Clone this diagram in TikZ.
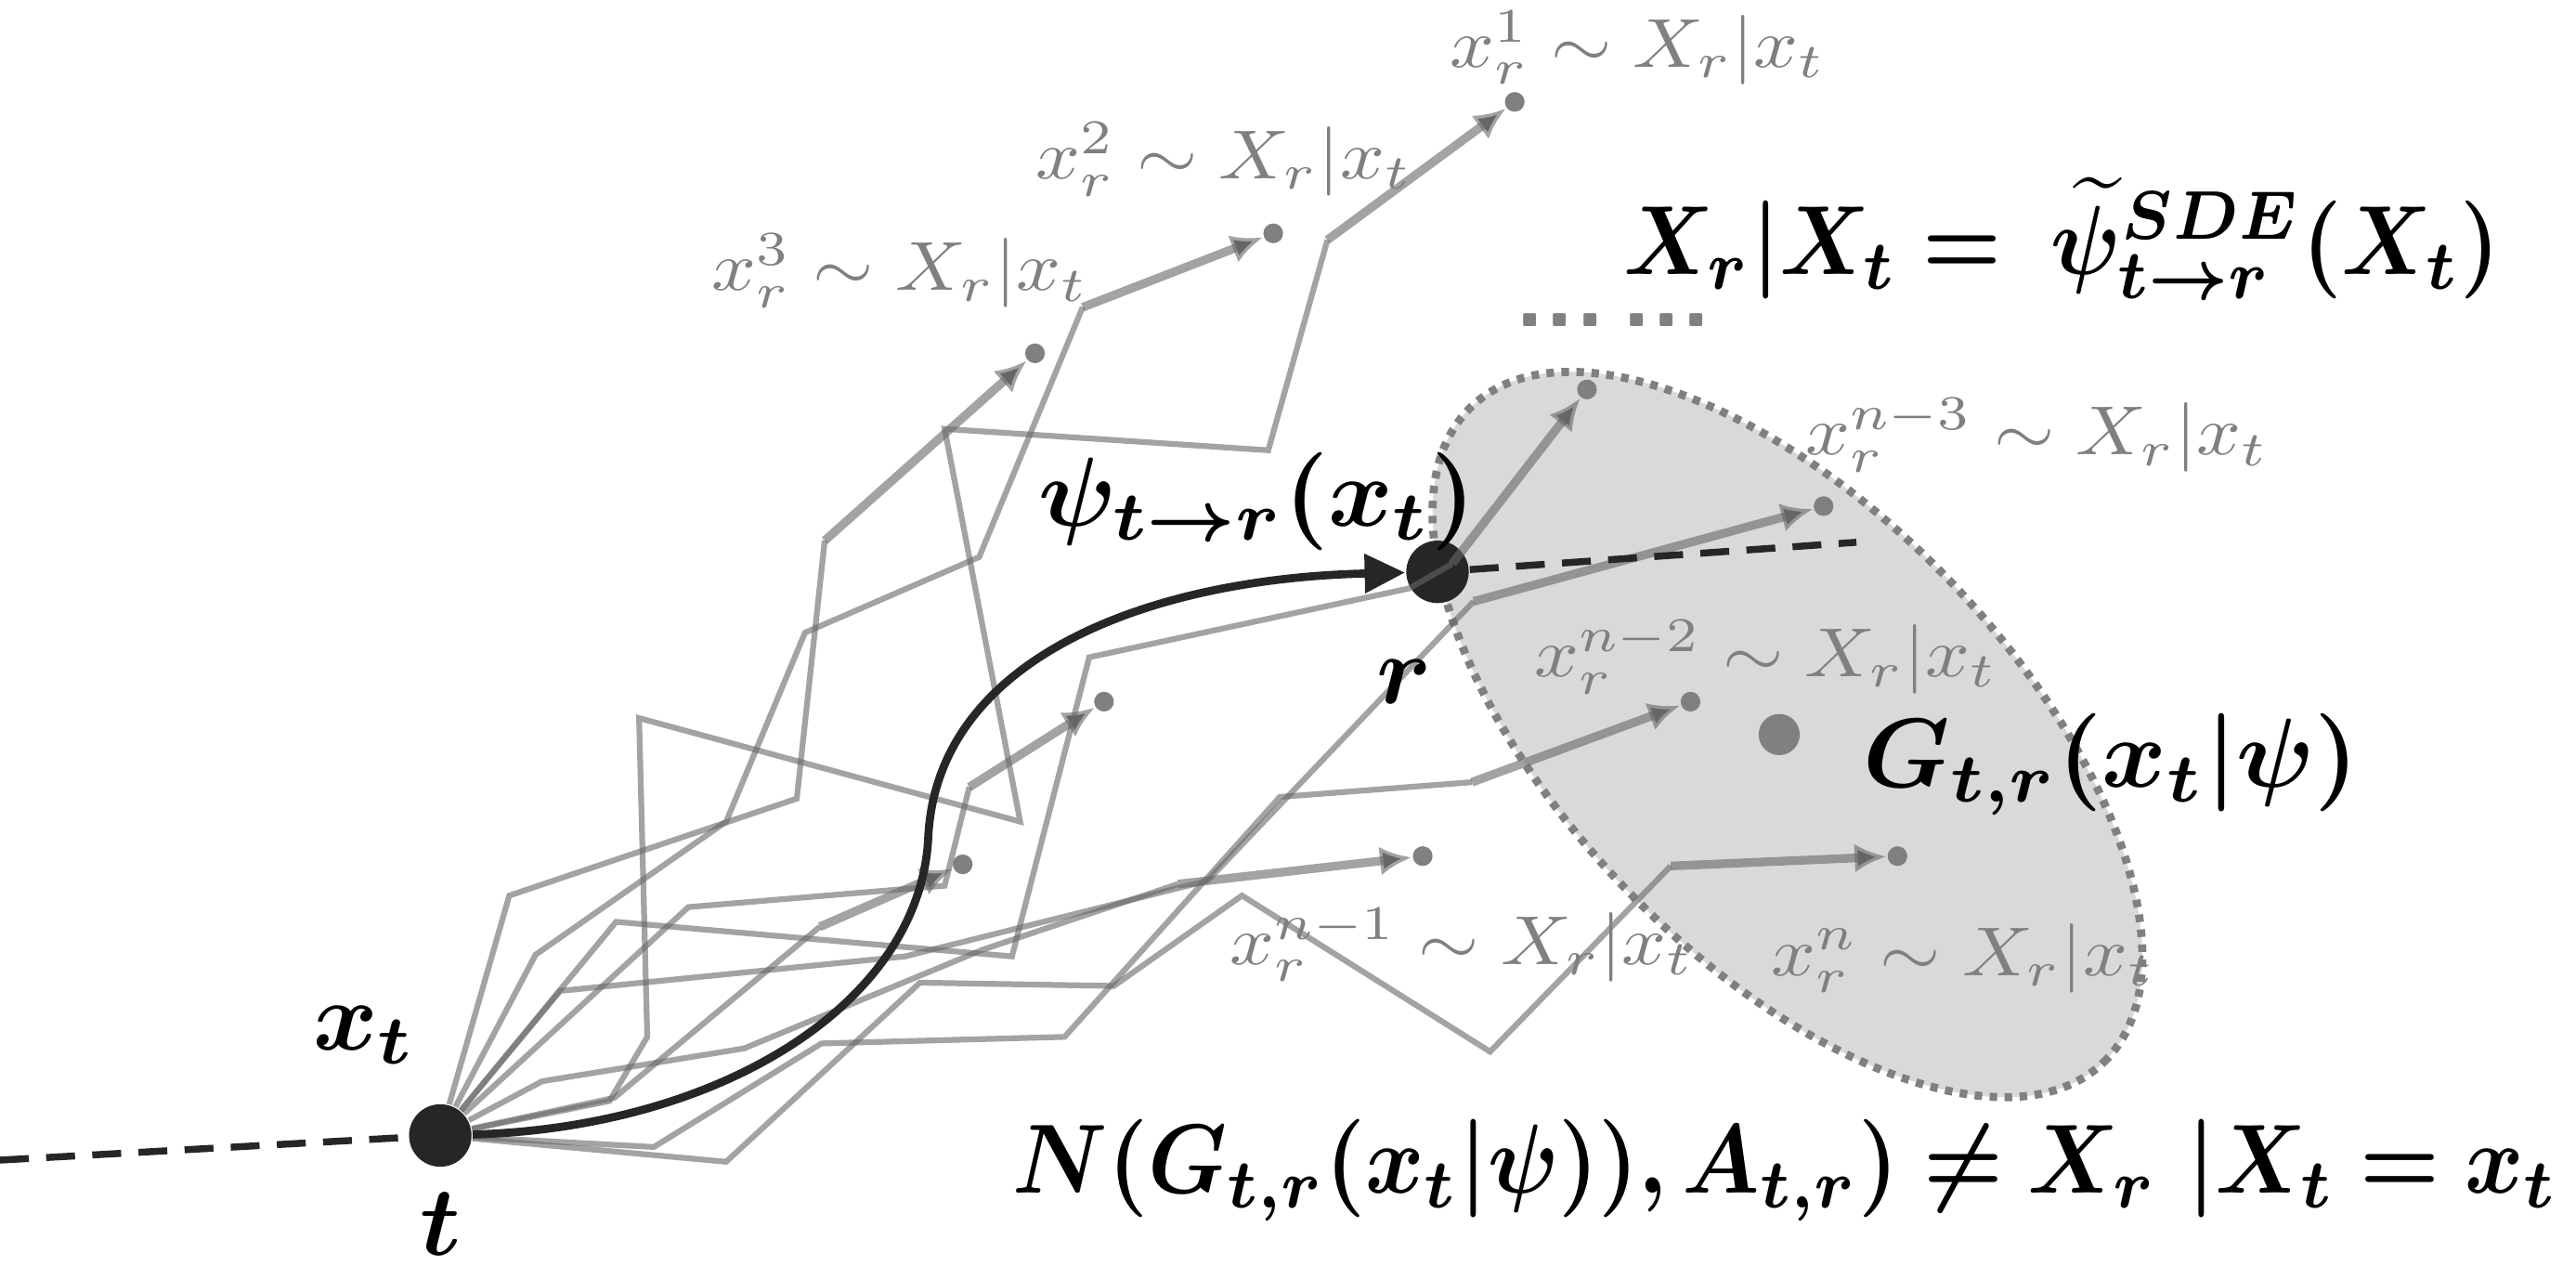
\documentclass[tikz,border=0pt]{standalone}
\usepackage{amsmath}
\usepackage{bm}
\usetikzlibrary{arrows.meta}
\usetikzlibrary{calc}

\definecolor{walkgray}{gray}{0.5}
\definecolor{cloudgray}{gray}{0.85}
\definecolor{inkblack}{gray}{0.15}

\tikzset{
  walk/.style={draw=black!60, draw opacity=0.6, line width=1pt, line join=miter},
  walkarrow/.style={walk, line width=1.5pt, -{Latex[length=5.5pt,width=5pt]}},
  sample/.style={circle, fill=walkgray, inner sep=0pt, minimum size=0.12cm},
  state/.style={circle, fill=inkblack, inner sep=0pt, minimum size=0.38cm},
  biglabel/.style={text=black, scale=1.7, transform shape},
  samplelabel/.style={text=walkgray, xscale=1.35, yscale=1.2, transform shape},
  timeline/.style={draw=inkblack, line width=1.2pt, dash pattern=on 5pt off 3pt},
}

\begin{document}
\begin{tikzpicture}[x=0.01cm, y=-0.01cm]
  \useasboundingbox (0,0) rectangle (1568,778);

  % cloud of end points
  \coordinate (ec) at (1088,447);
  \fill[cloudgray, rotate around={-46:(ec)}] (ec) ellipse [x radius=2.77cm, y radius=1.36cm];
  \draw[walkgray, line width=1.4pt, dash pattern=on 1.3pt off 1.3pt, rotate around={-46:(ec)}] (ec) ellipse [x radius=2.77cm, y radius=1.36cm];

  \node[state] (t) at (268,691) {};
  \node[state] (r) at (875,348) {};
  \node[circle, fill=walkgray, inner sep=0pt, minimum size=0.25cm] (g) at (1083,447) {};

  \node[sample] (s1) at (922,62) {};
  \node[sample] (s2) at (775,142) {};
  \node[sample] (s3) at (630,215) {};
  \node[sample] (s4) at (966,237) {};
  \node[sample] (s5) at (1110,308) {};
  \node[sample] (s6) at (1029,427) {};
  \node[sample] (s7) at (1155,521) {};
  \node[sample] (s8) at (866,521) {};
  \node[sample] (s9) at (672,427) {};
  \node[sample] (s10) at (586,526) {};

  % sample paths
  \draw[walk] (t) -- (310,545) -- (485,486) -- (502,329) coordinate (a3);
  \draw[walkarrow] (a3) -- (s3);
  \draw[walk] (t) -- (326,581) -- (442,500) -- (490,385) -- (596,339) -- (659,187) coordinate (a2);
  \draw[walkarrow] (a2) -- (s2);
  \draw[walk] (t) -- (371,670) -- (394,631) -- (389,437) -- (621,500) -- (575,261) -- (772,274) -- (808,146) coordinate (a1);
  \draw[walkarrow] (a1) -- (s1);
  \draw[walk] (t) -- (375,561) -- (616,582) -- (663,400) -- (858,358) -- (884,343) coordinate (a4);
  \draw[walkarrow] (a4) -- (s4);
  \draw[walk] (t) -- (341,603) -- (551,582) -- (735,536) -- (897,366) coordinate (a5);
  \draw[walkarrow] (a5) -- (s5);
  \draw[walk] (t) -- (398,698) -- (500,635) -- (648,631) -- (779,485) -- (896,476) coordinate (a6);
  \draw[walkarrow] (a6) -- (s6);
  \draw[walk] (t) -- (442,707) -- (560,598) -- (678,600) -- (756,545) -- (907,640) -- (1017,527) coordinate (a7);
  \draw[walkarrow] (a7) -- (s7);
  \draw[walk] (t) -- (330,658) -- (453,638) -- (598,578) -- (717,538) coordinate (a8);
  \draw[walkarrow] (a8) -- (s8);
  \draw[walk] (t) -- (419,552) -- (575,539) -- (590,479) coordinate (a9);
  \draw[walkarrow] (a9) -- (s9);
  \draw[walk] (t) -- (374,668) -- (499,564) coordinate (a10);
  \draw[walkarrow] (a10) -- (s10);

  % time axis
  \coordinate (past) at (0,706);
  \coordinate (future) at (1130,330);
  \draw[timeline] (past) -- (t);
  \draw[timeline] (r) -- (future);

  % deterministic flow
  \coordinate (bend) at (565,510);
  \draw[inkblack, line width=1.4pt, -{Triangle[length=7pt,width=6.5pt]}] (t) .. controls (440,686) and (560,610) .. (bend) .. controls (570,400) and (700,352) .. (r);

  \node[biglabel] (xt) at (222,630) {$\bm{x_t}$};
  \node[biglabel] (tl) at (268,745) {$\bm{t}$};
  \node[biglabel] (rl) at (855,415) {$\bm{r}$};
  \node[biglabel] (flow) at (765,305) {$\bm{\psi_{t\to r}(x_t)}$};
  \node[biglabel, xscale=0.9] (sde) at (1255,145) {$\bm{X_r|X_t =\; \widetilde{\psi}^{SDE}_{t\to r}(X_t)}$};
  \node[biglabel] (gl) at (1285,465) {$\bm{G_{t,r}(x_t|\psi)}$};
  \node[biglabel, xscale=0.91] (nl) at (1087,712) {$\bm{N(G_{t,r}(x_t|\psi)),A_{t,r}) \neq X_r\ |X_t = x_t}$};
  \node[text=walkgray, scale=1.7, transform shape, font=\sffamily\bfseries] (dots) at (982,195) {...\,...};

  \node[samplelabel] (l1) at (997,29) {$x_r^1 \sim X_r|x_t$};
  \node[samplelabel] (l2) at (745,97) {$x_r^2 \sim X_r|x_t$};
  \node[samplelabel] (l3) at (548,165) {$x_r^3 \sim X_r|x_t$};
  \node[samplelabel] (l4) at (1240,265) {$x_r^{n-3} \sim X_r|x_t$};
  \node[samplelabel] (l5) at (1075,400) {$x_r^{n-2} \sim X_r|x_t$};
  \node[samplelabel] (l6) at (890,575) {$x_r^{n-1} \sim X_r|x_t$};
  \node[samplelabel] (l7) at (1195,583) {$x_r^{n} \sim X_r|x_t$};
\end{tikzpicture}
\end{document}
